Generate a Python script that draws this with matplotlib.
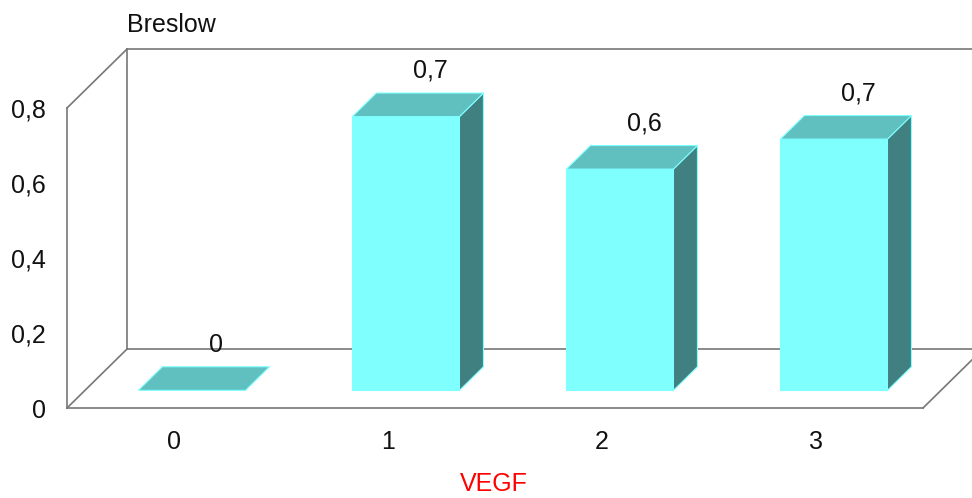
import matplotlib.pyplot as plt
from matplotlib.patches import Polygon

plt.rcParams['font.family'] = ['Liberation Sans', 'DejaVu Sans']

categories = ['0', '1', '2', '3']
values = [0.0, 0.73, 0.59, 0.67]
yticks = [0, 0.2, 0.4, 0.6, 0.8]

# pseudo 3d: shift per unit of depth, in data units
DX = 0.28
DY = 0.157
D_FRONT = 0.3
D_BACK = 0.7
WIDTH = 0.5
FS = 18

def p(x, y, d):
    return (x + DX * d, y + DY * d)

def comma(v):
    return ('%g' % round(v, 1)).replace('.', ',')

fig = plt.figure(figsize=(9.72, 4.98), dpi=100)
ax = fig.add_axes([67 / 972, 90 / 498, 856 / 972, 300 / 498])
ax.set_xlim(-0.5, len(categories) - 0.5)
ax.set_ylim(0, 0.8)
for s in ax.spines.values():
    s.set_visible(False)

x0 = -0.5
x1 = len(categories) - 0.5
ymax = 0.8
frame = '#777777'
lines = [
    [p(x0, 0, 0), p(x0, ymax, 0)],
    [p(x0, ymax, 0), p(x0, ymax, 1)],
    [p(x0, 0, 1), p(x0, ymax, 1)],
    [p(x0, ymax, 1), p(x1, ymax, 1)],
    [p(x0, 0, 1), p(x1, 0, 1)],
    [p(x0, 0, 0), p(x0, 0, 1)],
    [p(x0, 0, 0), p(x1, 0, 0)],
    [p(x1, 0, 0), p(x1, 0, 1)],
]
for a, b in lines:
    ax.plot([a[0], b[0]], [a[1], b[1]], color=frame, lw=1.2, clip_on=False, zorder=1)

edge = '#7FFFFF'
for i, v in enumerate(values):
    l = i - WIDTH / 2
    r = i + WIDTH / 2
    front = [p(l, 0, D_FRONT), p(r, 0, D_FRONT), p(r, v, D_FRONT), p(l, v, D_FRONT)]
    side = [p(r, 0, D_FRONT), p(r, 0, D_BACK), p(r, v, D_BACK), p(r, v, D_FRONT)]
    top = [p(l, v, D_FRONT), p(r, v, D_FRONT), p(r, v, D_BACK), p(l, v, D_BACK)]
    if v > 0:
        ax.add_patch(Polygon(front, closed=True, fc='#80FFFF', ec=edge, lw=0.8, clip_on=False, zorder=2))
        ax.add_patch(Polygon(side, closed=True, fc='#408080', ec=edge, lw=0.8, clip_on=False, zorder=2))
    ax.add_patch(Polygon(top, closed=True, fc='#60C0C0', ec=edge, lw=0.8, clip_on=False, zorder=2))
    ax.annotate(comma(v), p(i, v, D_BACK), xytext=(0, 16), textcoords='offset points',
                ha='center', va='center', fontsize=FS, color='#111111', zorder=3,
                annotation_clip=False)

ax.set_xticks(range(len(categories)))
ax.set_xticklabels(categories)
ax.set_yticks(yticks)
ax.set_yticklabels([comma(t) for t in yticks])
ax.tick_params(axis='both', length=0, labelsize=FS, colors='#111111')
ax.tick_params(axis='x', pad=16)
ax.tick_params(axis='y', pad=15)

fig.text(127 / 972, 1 - 25 / 498, 'Breslow', ha='left', va='center', fontsize=FS, color='#111111')
fig.text(494 / 972, 1 - 491 / 498, 'VEGF', ha='center', va='baseline', fontsize=FS, color='#FF0000')

fig.savefig('out.png', dpi=100)
